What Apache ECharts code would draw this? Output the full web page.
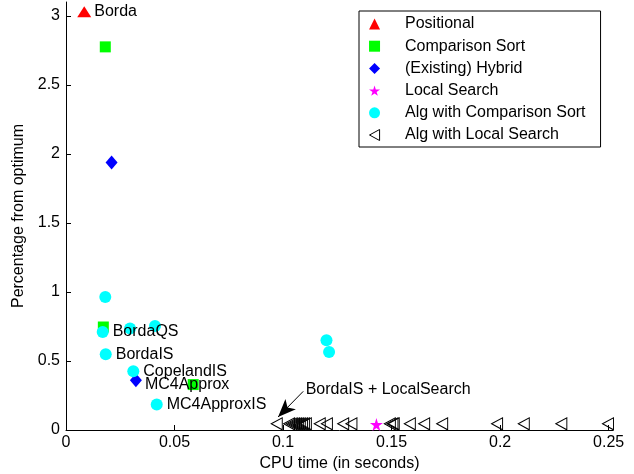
<!DOCTYPE html>
<html>
<head>
<meta charset="utf-8">
<script src="https://cdn.jsdelivr.net/npm/echarts@6/dist/echarts.min.js"></script>
<style>html,body{margin:0;padding:0;background:#fff;}#c{width:634px;height:474px;}</style>
</head>
<body>
<div id="c"></div>
<script>
// ---- data ----
const xTicks = [0, 0.05, 0.1, 0.15, 0.2, 0.25];
const yTicks = [0, 0.5, 1, 1.5, 2, 2.5, 3];

const seriesNames = ['Positional', 'Comparison Sort', '(Existing) Hybrid', 'Local Search', 'Alg with Comparison Sort', 'Alg with Local Search'];

const positionalX = [0.0084];
const positionalY = [3.03];
const positionalLabels = ['Borda'];

const comparisonX = [0.0181, 0.0172, 0.0586];
const comparisonY = [2.775, 0.746, 0.329];
const comparisonLabels = ['', '', ''];

const hybridX = [0.021, 0.0322];
const hybridY = [1.938, 0.36];
const hybridLabels = ['', 'MC4Approx'];

const localX = [0.143];
const localY = [0.04];
const localLabels = [''];

const algCompX = [0.0181, 0.0169, 0.0295, 0.041, 0.0183, 0.031, 0.0418, 0.12, 0.1212];
const algCompY = [0.964, 0.71, 0.735, 0.754, 0.549, 0.425, 0.184, 0.65, 0.565];
const algCompLabels = ['', 'BordaQS', '', '', 'BordaIS', 'CopelandIS', 'MC4ApproxIS', '', ''];

const algLocalX = [0.0971, 0.1028, 0.104, 0.105, 0.1059, 0.1068, 0.1077, 0.1087, 0.1096, 0.1105,
                   0.1169, 0.1202, 0.1277, 0.1315, 0.1492, 0.1504, 0.151, 0.1584, 0.165, 0.1733,
                   0.1986, 0.2109, 0.2282, 0.2497];
const algLocalY = [0.045, 0.045, 0.045, 0.045, 0.045, 0.045, 0.045, 0.045, 0.045, 0.045,
                   0.045, 0.045, 0.045, 0.045, 0.045, 0.045, 0.045, 0.045, 0.045, 0.045,
                   0.045, 0.045, 0.045, 0.045];

const annotationText = 'BordaIS + LocalSearch';
const annotationStart = [0.1093, 0.28];
const annotationEnd = [0.0977, 0.094];
const annotationTextPos = [0.1104, 0.292];

// ---- build ----
const FONT = '"Liberation Sans", Arial, Helvetica, sans-serif';
function pts(xs, ys, labels, extraOffset) {
  return xs.map((x, i) => {
    const o = { value: [x, ys[i]], name: labels ? (labels[i] || '') : '' };
    if (labels && labels[i]) {
      o.label = { show: true };
      if (extraOffset && extraOffset[labels[i]]) o.label.offset = extraOffset[labels[i]];
    }
    return o;
  });
}
const labelCfg = {
  show: false, position: 'right', distance: 4, color: '#000', fontSize: 16, fontFamily: FONT,
  formatter: p => p.name || ''
};
const starPath = 'path://M50,0 L61,35 L98,35 L68,57 L79,91 L50,70 L21,91 L32,57 L2,35 L39,35 Z';
const leftTriPath = 'path://M0,6 L11,0 L11,12 Z';

const chart = echarts.init(document.getElementById('c'), null, { renderer: 'canvas' });
chart.setOption({
  animation: false,
  backgroundColor: '#fff',
  textStyle: { fontFamily: FONT },
  grid: { left: 66, right: 21, top: 2, bottom: 44, containLabel: false, outerBoundsMode: 'none' },
  xAxis: {
    type: 'value', min: 0, max: 0.252, interval: 0.05,
    name: 'CPU time (in seconds)', nameLocation: 'middle', nameGap: 25,
    nameTextStyle: { color: '#000', fontSize: 16, fontFamily: FONT },
    axisLine: { show: true, onZero: false, lineStyle: { color: '#000', width: 1 } },
    axisTick: { show: true, inside: true, length: 5, customValues: xTicks, lineStyle: { color: '#000' } },
    axisLabel: { color: '#000', fontSize: 16, fontFamily: FONT, margin: 5, customValues: xTicks,
      formatter: v => String(v) },
    splitLine: { show: false }
  },
  yAxis: {
    type: 'value', min: 0, max: 3.1, interval: 0.5,
    name: 'Percentage from optimum', nameLocation: 'middle', nameGap: 34,
    nameTextStyle: { color: '#000', fontSize: 16, fontFamily: FONT },
    axisLine: { show: true, onZero: false, lineStyle: { color: '#000', width: 1 } },
    axisTick: { show: true, inside: true, length: 5, customValues: yTicks, lineStyle: { color: '#000' } },
    axisLabel: { color: '#000', fontSize: 16, fontFamily: FONT, margin: 6, customValues: yTicks,
      formatter: v => String(v) },
    splitLine: { show: false }
  },
  legend: {
    orient: 'vertical', left: 359, top: 11,
    padding: [5, 15, 4, 10], itemWidth: 11, itemHeight: 11, itemGap: 6.2,
    borderColor: '#000', borderWidth: 1, backgroundColor: '#fff',
    textStyle: { color: '#000', fontSize: 16, fontFamily: FONT, lineHeight: 16, padding: [0, 0, 0, 20] },
    data: seriesNames.map((n, i) => i === 5
      ? { name: n, icon: leftTriPath, itemStyle: { color: 'rgba(255,255,255,0)', borderColor: '#000', borderWidth: 1 } }
      : { name: n })
  },
  series: [
    {
      name: seriesNames[0], type: 'scatter', symbol: 'triangle', symbolSize: [14, 11],
      itemStyle: { color: '#ff0000', opacity: 1 },
      label: Object.assign({}, labelCfg, { distance: 3 }),
      data: pts(positionalX, positionalY, positionalLabels)
    },
    {
      name: seriesNames[1], type: 'scatter', symbol: 'rect', symbolSize: 11,
      itemStyle: { color: '#00ff00', opacity: 1 },
      data: pts(comparisonX, comparisonY, comparisonLabels)
    },
    {
      name: seriesNames[2], type: 'scatter', symbol: 'diamond', symbolSize: [12, 14],
      itemStyle: { color: '#0000ff', opacity: 1 },
      label: Object.assign({}, labelCfg, { distance: 3 }),
      data: pts(hybridX, hybridY, hybridLabels, { 'MC4Approx': [0, 4] })
    },
    {
      name: seriesNames[3], type: 'scatter', symbol: starPath, symbolSize: 13,
      itemStyle: { color: '#ff00ff', opacity: 1 },
      data: pts(localX, localY, localLabels)
    },
    {
      name: seriesNames[4], type: 'scatter', symbol: 'circle', symbolSize: 12,
      itemStyle: { color: '#00ffff', opacity: 1 },
      label: Object.assign({}, labelCfg, { distance: 4 }),
      data: pts(algCompX, algCompY, algCompLabels)
    },
    {
      name: seriesNames[5], type: 'scatter', symbol: 'triangle', symbolSize: [12, 11], symbolRotate: 90,
      itemStyle: { color: 'rgba(255,255,255,0)', borderColor: '#000', borderWidth: 1, opacity: 1 },
      data: pts(algLocalX, algLocalY, null),
      markLine: {
        silent: true, animation: false,
        symbol: ['none', 'arrow'], symbolSize: [11, 18],
        lineStyle: { color: '#000', type: 'solid', width: 1 },
        itemStyle: { color: '#000' },
        label: { show: false },
        emphasis: { disabled: true },
        data: [[{ coord: annotationStart }, { coord: annotationEnd }]]
      },
      markPoint: {
        silent: true, animation: false,
        symbol: 'circle', symbolSize: 0,
        label: { show: true, position: 'right', distance: 0, color: '#000', fontSize: 16, fontFamily: FONT,
          formatter: () => annotationText },
        data: [{ coord: annotationTextPos }]
      }
    }
  ]
});
</script>
</body>
</html>
